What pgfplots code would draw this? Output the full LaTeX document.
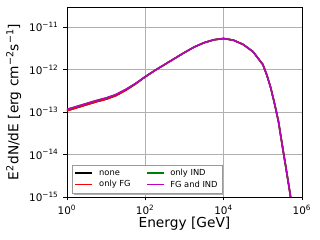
\documentclass[border=0pt]{standalone}
\usepackage{fontspec}
\setmainfont{DejaVu Sans}
\usepackage{pgfplots}
\pgfplotsset{compat=1.18}
\usepackage{pgfplotstable}
\definecolor{mplred}{rgb}{1,0,0}
\definecolor{mplgreen}{rgb}{0,0.5,0}
\definecolor{mplmag}{rgb}{0.75,0,0.75}
\definecolor{gridgray}{HTML}{B0B0B0}

\pgfplotstableread{
E       none      fg        ind       both
1       1.07e-13  1.07e-13  1.148e-13 1.148e-13
1.778   1.259e-13 1.259e-13 1.35e-13  1.35e-13
3.162   1.48e-13  1.48e-13  1.585e-13 1.585e-13
5.623   1.74e-13  1.74e-13  1.86e-13  1.86e-13
10      2.00e-13  2.00e-13  2.14e-13  2.14e-13
17.78   2.43e-13  2.43e-13  2.57e-13  2.57e-13
31.62   3.24e-13  3.24e-13  3.39e-13  3.39e-13
56.23   4.57e-13  4.57e-13  4.68e-13  4.68e-13
100     6.76e-13  6.76e-13  6.76e-13  6.76e-13
177.8   9.55e-13  9.55e-13  9.55e-13  9.55e-13
316.2   1.32e-12  1.32e-12  1.32e-12  1.32e-12
562.3   1.82e-12  1.82e-12  1.82e-12  1.82e-12
1000    2.51e-12  2.51e-12  2.51e-12  2.51e-12
1778    3.39e-12  3.39e-12  3.39e-12  3.39e-12
3162    4.27e-12  4.27e-12  4.27e-12  4.27e-12
5623    5.01e-12  5.01e-12  5.01e-12  5.01e-12
10000   5.37e-12  5.37e-12  5.37e-12  5.37e-12
17783   4.90e-12  4.90e-12  4.90e-12  4.90e-12
31623   3.89e-12  3.89e-12  3.89e-12  3.89e-12
56234   2.63e-12  2.63e-12  2.63e-12  2.63e-12
100000  1.32e-12  1.32e-12  1.32e-12  1.32e-12
125893  7.59e-13  7.59e-13  7.59e-13  7.59e-13
158489  3.80e-13  3.80e-13  3.80e-13  3.80e-13
199526  1.58e-13  1.58e-13  1.58e-13  1.58e-13
251189  6.03e-14  6.03e-14  6.03e-14  6.03e-14
316228  1.58e-14  1.58e-14  1.58e-14  1.58e-14
398107  4.37e-15  4.37e-15  4.37e-15  4.37e-15
501187  1.15e-15  1.15e-15  1.15e-15  1.15e-15
630957  2.51e-16  2.51e-16  2.51e-16  2.51e-16
}\spectrum

\begin{document}
\begin{tikzpicture}
\begin{axis}[
  scale only axis,
  width=169.2pt, height=136.8pt,
  xmode=log, ymode=log,
  log basis x=10, log basis y=10,
  xmin=1, xmax=1e6,
  ymin=1e-15, ymax=2.97e-11,
  xtick={1,100,10000,1000000},
  xticklabels={10\textsuperscript{0},10\textsuperscript{2},10\textsuperscript{4},10\textsuperscript{6}},
  ytick={1e-15,1e-14,1e-13,1e-12,1e-11},
  yticklabels={10\textsuperscript{−15},10\textsuperscript{−14},10\textsuperscript{−13},10\textsuperscript{−12},10\textsuperscript{−11}},
  xminorticks=false,
  yminorticks=true,
  minor y tick num=8,
  tick align=outside,
  major tick length=2.5pt,
  minor tick length=1.4pt,
  tick style={black, line width=0.5pt},
  xtick pos=bottom, ytick pos=left,
  grid=major,
  major grid style={gridgray, line width=0.6pt},
  axis line style={black, line width=0.6pt},
  ticklabel style={font=\fontsize{7.5}{9}\selectfont},
  xlabel={Energy [GeV]},
  ylabel={E\textsuperscript{2}dN/dE [erg cm\textsuperscript{−2}s\textsuperscript{−1}]},
  label style={font=\fontsize{9.9}{12}\selectfont},
  xlabel style={at={(axis description cs:0.5,0)}, anchor=base, yshift=-22.3pt},
  ylabel style={at={(axis description cs:-0.2063,0.5)}, anchor=base},
]
\addplot[black, line width=1.1pt, no marks] table[x=E, y=none] {\spectrum};
\addplot[mplred, line width=1.1pt, no marks] table[x=E, y=fg] {\spectrum};
\addplot[mplgreen, line width=1.1pt, no marks] table[x=E, y=ind] {\spectrum};
\addplot[mplmag, line width=1.1pt, no marks] table[x=E, y=both] {\spectrum};
\end{axis}
% legend
\begin{scope}[shift={(current axis.south west)}]
\fill[gray!60] (5.2pt,1.3pt) rectangle (113.2pt,21.4pt);
\draw[gray!80, fill=white, line width=0.5pt] (3.6pt,2.9pt) rectangle (111.6pt,23pt);
\draw[black, line width=1.1pt] (5.8pt,17.1pt) -- (18.2pt,17.1pt);
\node[anchor=west, inner sep=0pt, font=\fontsize{6}{7}\selectfont] at (23pt,17.1pt) {none};
\draw[mplred, line width=1.1pt] (5.8pt,9.1pt) -- (18.2pt,9.1pt);
\node[anchor=west, inner sep=0pt, font=\fontsize{6}{7}\selectfont] at (23pt,9.1pt) {only FG};
\draw[mplgreen, line width=1.1pt] (57.8pt,17.1pt) -- (70.2pt,17.1pt);
\node[anchor=west, inner sep=0pt, font=\fontsize{6}{7}\selectfont] at (74.2pt,17.1pt) {only IND};
\draw[mplmag, line width=1.1pt] (57.8pt,9.1pt) -- (70.2pt,9.1pt);
\node[anchor=west, inner sep=0pt, font=\fontsize{6}{7}\selectfont] at (74.2pt,9.1pt) {FG and IND};
\end{scope}
\pgfresetboundingbox
\path (current axis.south west) ++(-48.2pt,-31.0pt) rectangle ++(230.4pt,172.8pt);
\end{tikzpicture}
\end{document}
